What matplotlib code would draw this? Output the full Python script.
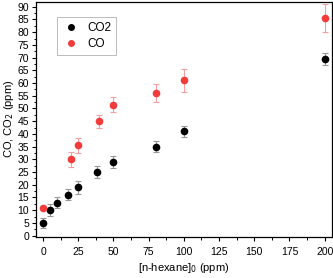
import matplotlib
matplotlib.use("Agg")
import matplotlib.pyplot as plt
from matplotlib.ticker import MultipleLocator
from matplotlib.lines import Line2D

plt.rcParams['font.family'] = ['Liberation Sans', 'DejaVu Sans']

co2_x = [0, 5, 10, 18, 25, 38, 50, 80, 100, 200]
co2_y = [5, 10, 13, 16, 19, 25, 29, 35, 41, 69.5]
co2_err = [2.0, 2.3, 2.3, 2.2, 2.5, 2.3, 2.4, 2.2, 2.2, 2.5]

co_x = [0, 20, 25, 40, 50, 80, 100, 200]
co_y = [11, 30, 35.5, 45, 51.5, 56, 61, 85.5]
co_err = [0.5, 3.0, 3.0, 2.5, 3.0, 3.5, 4.5, 5.5]

xticks = [0, 25, 50, 75, 100, 125, 150, 175, 200]
yticks = list(range(0, 91, 5))

co2_color = 'black'
co_color = '#f23c3c'

fig = plt.figure(figsize=(3.33, 2.78), dpi=100)
ax = fig.add_axes([0.108, 0.148, 0.888, 0.846])

ax.errorbar(co2_x, co2_y, yerr=co2_err, fmt='o', color=co2_color, ms=4.5,
            ecolor='#999999', elinewidth=0.8, capsize=2, capthick=0.8, zorder=3)
ax.errorbar(co_x, co_y, yerr=co_err, fmt='o', color=co_color, ms=4.5,
            ecolor='#f5a0a0', elinewidth=0.8, capsize=2, capthick=0.8, zorder=3)

ax.set_xlim(-5, 205)
ax.set_ylim(-0.5, 92)
ax.set_xticks(xticks)
ax.set_yticks(yticks)
ax.xaxis.set_minor_locator(MultipleLocator(12.5))
ax.yaxis.set_minor_locator(MultipleLocator(2.5))
ax.tick_params(which='major', direction='out', length=3, width=0.8, labelsize=7.5)
ax.tick_params(which='major', axis='x', pad=4)
ax.tick_params(which='major', axis='y', pad=2)
ax.tick_params(which='minor', direction='out', length=1.8, width=0.7)
for s in ax.spines.values():
    s.set_linewidth(0.9)

ax.set_xlabel('[n-hexane]$_0$ (ppm)', fontsize=8, labelpad=3)
ax.set_ylabel('CO, CO$_2$ (ppm)', fontsize=8, labelpad=1)

handles = [Line2D([], [], ls='none', marker='o', ms=4, color=co2_color),
           Line2D([], [], ls='none', marker='o', ms=4, color=co_color)]
leg = ax.legend(handles, ['CO2', 'CO'], loc='upper left', bbox_to_anchor=(0.05, 0.96),
                fontsize=8.5, frameon=True, fancybox=False, edgecolor='#aaaaaa',
                handletextpad=0.6, handlelength=1.6, borderpad=0.4, labelspacing=0.35)
leg.get_frame().set_linewidth(0.7)

fig.savefig('out.png', dpi=100)
